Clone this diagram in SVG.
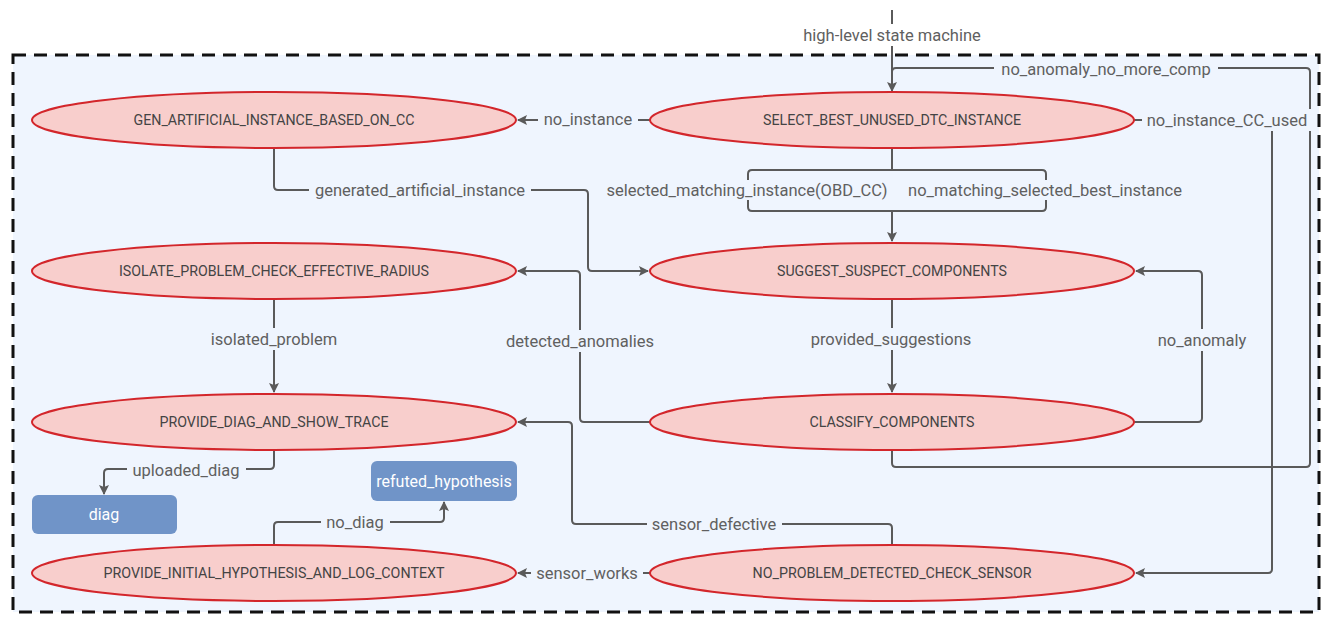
<svg xmlns="http://www.w3.org/2000/svg" width="1334" height="626" viewBox="0 0 1334 626">
  <defs>
    <marker id="arrow" viewBox="0 0 10 10" refX="9" refY="5" markerWidth="10" markerHeight="10" markerUnits="userSpaceOnUse" orient="auto">
      <path d="M0,0 L10,5 L0,10 L2,5 z" fill="#5a5a5a"/>
    </marker>
    <style>
      .frame { fill: #eff5fe; stroke: #111; stroke-width: 3; stroke-dasharray: 13 8; }
      .state { fill: #f8cecc; stroke: #d3262b; stroke-width: 2; }
      .stateText { font-family: Roboto, "Liberation Sans", sans-serif; font-size: 14px; fill: #444; text-anchor: middle; }
      .final { fill: #7094c8; }
      .finalText { font-family: Roboto, "Liberation Sans", sans-serif; font-size: 16px; fill: #fff; text-anchor: middle; }
      .edge { fill: none; stroke: #5a5a5a; stroke-width: 2; }
      .arrowed { marker-end: url(#arrow); }
      .lblBg { fill: #eff5fe; }
      .lbl { font-family: Roboto, "Liberation Sans", sans-serif; font-size: 16.5px; fill: #606060; text-anchor: middle; }
    </style>
  </defs>

  <rect width="1334" height="626" fill="#fff"/>

  <!-- composite state boundary -->
  <rect class="frame" x="13" y="55" width="1306" height="557"/>

  <!-- transitions -->
  <g id="connectors">
    <!-- entry -->
    <path class="edge arrowed" d="M892,10 V91"/>
    <!-- no_anomaly_no_more_comp -->
    <path class="edge" d="M892,450 V463 Q892,467 896,467 H1306 Q1310,467 1310,463 V72 Q1310,68 1306,68 H896 Q892,68 892,72"/>
    <!-- no_instance -->
    <path class="edge arrowed" d="M650,120 H518"/>
    <!-- no_instance_CC_used -->
    <path class="edge arrowed" d="M1134,120 H1268 Q1272,120 1272,124 V569 Q1272,573 1268,573 H1136"/>
    <!-- selected_matching_instance / no_matching_selected_best_instance -->
    <path class="edge" d="M892,148 V170 M892,170 H752 Q748,170 748,174 V207 Q748,211 752,211 H892"/>
    <path class="edge" d="M892,170 H1042 Q1046,170 1046,174 V207 Q1046,211 1042,211 H892"/>
    <path class="edge arrowed" d="M892,211 V241"/>
    <!-- generated_artificial_instance -->
    <path class="edge arrowed" d="M274,148 V186 Q274,190 278,190 H584 Q588,190 588,194 V267 Q588,271 592,271 H648"/>
    <!-- provided_suggestions -->
    <path class="edge arrowed" d="M892,299 V392"/>
    <!-- no_anomaly -->
    <path class="edge arrowed" d="M1134,422 H1198 Q1202,422 1202,418 V275 Q1202,271 1198,271 H1136"/>
    <!-- detected_anomalies -->
    <path class="edge arrowed" d="M650,422 H584 Q580,422 580,418 V275 Q580,271 576,271 H518"/>
    <!-- isolated_problem -->
    <path class="edge arrowed" d="M274,299 V392"/>
    <!-- sensor_defective -->
    <path class="edge arrowed" d="M892,545 V528 Q892,524 888,524 H576 Q572,524 572,520 V426 Q572,422 568,422 H518"/>
    <!-- sensor_works -->
    <path class="edge arrowed" d="M650,573 H518"/>
    <!-- uploaded_diag -->
    <path class="edge arrowed" d="M274,450 V465 Q274,469 270,469 H108 Q104,469 104,473 V494"/>
    <!-- no_diag -->
    <path class="edge arrowed" d="M274,545 V526 Q274,522 278,522 H440 Q444,522 444,518 V502"/>

    <!-- labels -->
    <rect x="797" y="24" width="190" height="22" fill="#fff"/>
    <text class="lbl" x="892" y="41">high-level state machine</text>
    <rect class="lblBg" x="994" y="58" width="224" height="22"/>
    <text class="lbl" x="1106" y="75">no_anomaly_no_more_comp</text>
    <rect class="lblBg" x="538" y="108" width="100" height="22"/>
    <text class="lbl" x="588" y="125">no_instance</text>
    <rect class="lblBg" x="1142" y="109" width="170" height="22"/>
    <text class="lbl" x="1227" y="126">no_instance_CC_used</text>
    <rect class="lblBg" x="602" y="180" width="290" height="20"/>
    <text class="lbl" x="747" y="196">selected_matching_instance(OBD_CC)</text>
    <rect class="lblBg" x="904" y="180" width="283" height="20"/>
    <text class="lbl" x="1045" y="196">no_matching_selected_best_instance</text>
    <rect class="lblBg" x="309" y="179" width="222" height="22"/>
    <text class="lbl" x="420" y="196">generated_artificial_instance</text>
    <rect class="lblBg" x="805" y="328" width="172" height="22"/>
    <text class="lbl" x="891" y="345">provided_suggestions</text>
    <rect class="lblBg" x="1151" y="329" width="102" height="22"/>
    <text class="lbl" x="1202" y="346">no_anomaly</text>
    <rect class="lblBg" x="500" y="330" width="159" height="22"/>
    <text class="lbl" x="580" y="347">detected_anomalies</text>
    <rect class="lblBg" x="204" y="328" width="140" height="22"/>
    <text class="lbl" x="274" y="345">isolated_problem</text>
    <rect class="lblBg" x="647" y="513" width="135" height="22"/>
    <text class="lbl" x="714" y="530">sensor_defective</text>
    <rect class="lblBg" x="531" y="562" width="112" height="22"/>
    <text class="lbl" x="587" y="579">sensor_works</text>
    <rect class="lblBg" x="127" y="459" width="119" height="22"/>
    <text class="lbl" x="186" y="476">uploaded_diag</text>
    <rect class="lblBg" x="321" y="511" width="69" height="22"/>
    <text class="lbl" x="355" y="528">no_diag</text>
  </g>

  <!-- states -->
  <g id="GEN_ARTIFICIAL_INSTANCE_BASED_ON_CC">
    <ellipse class="state" cx="274" cy="120" rx="242" ry="28"/>
    <text class="stateText" x="274" y="125" textLength="281" lengthAdjust="spacingAndGlyphs">GEN_ARTIFICIAL_INSTANCE_BASED_ON_CC</text>
  </g>
  <g id="SELECT_BEST_UNUSED_DTC_INSTANCE">
    <ellipse class="state" cx="892" cy="120" rx="242" ry="28"/>
    <text class="stateText" x="892" y="125" textLength="258" lengthAdjust="spacingAndGlyphs">SELECT_BEST_UNUSED_DTC_INSTANCE</text>
  </g>
  <g id="ISOLATE_PROBLEM_CHECK_EFFECTIVE_RADIUS">
    <ellipse class="state" cx="274" cy="271" rx="242" ry="28"/>
    <text class="stateText" x="274" y="276" textLength="310" lengthAdjust="spacingAndGlyphs">ISOLATE_PROBLEM_CHECK_EFFECTIVE_RADIUS</text>
  </g>
  <g id="SUGGEST_SUSPECT_COMPONENTS">
    <ellipse class="state" cx="892" cy="271" rx="242" ry="28"/>
    <text class="stateText" x="892" y="276" textLength="230" lengthAdjust="spacingAndGlyphs">SUGGEST_SUSPECT_COMPONENTS</text>
  </g>
  <g id="PROVIDE_DIAG_AND_SHOW_TRACE">
    <ellipse class="state" cx="274" cy="422" rx="242" ry="28"/>
    <text class="stateText" x="274" y="427" textLength="229" lengthAdjust="spacingAndGlyphs">PROVIDE_DIAG_AND_SHOW_TRACE</text>
  </g>
  <g id="CLASSIFY_COMPONENTS">
    <ellipse class="state" cx="892" cy="422" rx="242" ry="28"/>
    <text class="stateText" x="892" y="427" textLength="165" lengthAdjust="spacingAndGlyphs">CLASSIFY_COMPONENTS</text>
  </g>
  <g id="PROVIDE_INITIAL_HYPOTHESIS_AND_LOG_CONTEXT">
    <ellipse class="state" cx="274" cy="573" rx="242" ry="28"/>
    <text class="stateText" x="274" y="578" textLength="341" lengthAdjust="spacingAndGlyphs">PROVIDE_INITIAL_HYPOTHESIS_AND_LOG_CONTEXT</text>
  </g>
  <g id="NO_PROBLEM_DETECTED_CHECK_SENSOR">
    <ellipse class="state" cx="892" cy="573" rx="242" ry="28"/>
    <text class="stateText" x="892" y="578" textLength="279" lengthAdjust="spacingAndGlyphs">NO_PROBLEM_DETECTED_CHECK_SENSOR</text>
  </g>

  <!-- final states -->
  <g id="diag">
    <rect class="final" x="32" y="495" width="145" height="39" rx="6"/>
    <text class="finalText" x="104" y="520">diag</text>
  </g>
  <g id="refuted_hypothesis">
    <rect class="final" x="371" y="461" width="146" height="40" rx="6"/>
    <text class="finalText" x="444" y="487">refuted_hypothesis</text>
  </g>
</svg>
